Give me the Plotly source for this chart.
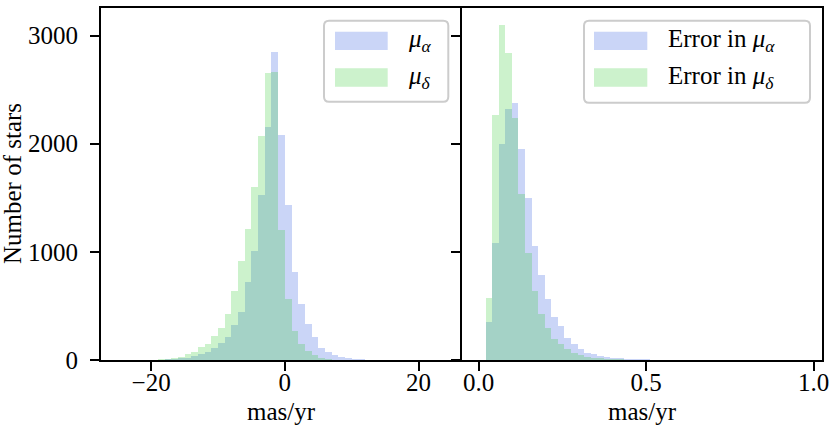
import plotly.graph_objects as go
from plotly.subplots import make_subplots

# proper motion histograms (mas/yr), bins of width 1 starting at -25
pm_bin_left = list(range(-25, 24))
pm_alpha_counts = [0, 0, 1, 1, 2, 3, 4, 6, 9, 15,
                   22, 37, 53, 74, 108, 155, 213, 328, 440, 718,
                   1012, 1523, 2157, 2848, 2080, 1430, 811, 517, 331, 210,
                   115, 77, 45, 28, 19, 10, 6, 4, 2, 1,
                   1, 1, 0, 0, 0, 0, 0, 0, 0]
pm_delta_counts = [0, 0, 1, 1, 2, 3, 6, 12, 19, 31,
                   53, 71, 121, 145, 223, 300, 430, 641, 920, 1214,
                   1600, 2071, 2653, 2660, 1198, 563, 269, 146, 84, 43,
                   22, 9, 4, 2, 1, 0, 0, 0, 0, 0,
                   0, 0, 0, 0, 0, 0, 0, 0, 0]

# proper motion errors (mas/yr), 50 bins over 0 .. 0.98
err_bin_width = 0.0196
err_bin_left = [k * err_bin_width for k in range(50)]
err_alpha_counts = [0, 347, 1084, 1994, 2322, 2375, 1950, 1502, 1053, 789,
                    563, 399, 310, 201, 146, 99, 62, 53, 37, 28,
                    22, 15, 12, 9, 6, 5, 4, 3, 2, 2,
                    1, 1, 1, 0, 0, 0, 0, 0, 0, 0,
                    0, 0, 0, 0, 0, 0, 0, 0, 0, 1]
err_delta_counts = [0, 573, 2266, 3102, 2839, 2235, 1539, 988, 640, 430,
                    300, 198, 146, 99, 68, 46, 31, 22, 15, 12,
                    9, 6, 4, 3, 2, 2, 1, 1, 1, 0,
                    0, 0, 0, 0, 0, 0, 0, 0, 0, 0,
                    0, 0, 0, 0, 0, 0, 0, 0, 0, 0]

count_ticks = [0, 1000, 2000, 3000]
left_labels = ["<i>μ</i><sub><i>α</i></sub>", "<i>μ</i><sub><i>δ</i></sub>"]
right_labels = ["Error in <i>μ</i><sub><i>α</i></sub>", "Error in <i>μ</i><sub><i>δ</i></sub>"]

BLUE = "rgba(65,105,225,0.28)"
GREEN = "rgba(50,205,50,0.25)"
FONT = "Liberation Serif"

W, H = 831, 435
ML, MR, MT, MB = 101, 9, 8, 75
PW, PH = W - ML - MR, H - MT - MB


def px(x, y):
    """screen pixel position -> paper coords"""
    return (x - ML) / PW, (H - MB - y) / PH


fig = make_subplots(rows=1, cols=2, shared_yaxes=True, horizontal_spacing=0)

fig.add_bar(x=[b + 0.5 for b in pm_bin_left], y=pm_alpha_counts, width=1.0,
            marker=dict(color=BLUE, line=dict(width=0)), row=1, col=1)
fig.add_bar(x=[b + 0.5 for b in pm_bin_left], y=pm_delta_counts, width=1.0,
            marker=dict(color=GREEN, line=dict(width=0)), row=1, col=1)
fig.add_bar(x=[b + err_bin_width / 2 for b in err_bin_left], y=err_alpha_counts,
            width=err_bin_width, marker=dict(color=BLUE, line=dict(width=0)), row=1, col=2)
fig.add_bar(x=[b + err_bin_width / 2 for b in err_bin_left], y=err_delta_counts,
            width=err_bin_width, marker=dict(color=GREEN, line=dict(width=0)), row=1, col=2)

axis_style = dict(showline=True, linecolor="black", linewidth=2, mirror=True,
                  ticks="outside", ticklen=9, tickwidth=2, tickcolor="black",
                  showgrid=False, zeroline=False, automargin=False,
                  tickfont=dict(family=FONT, size=25, color="black"))

fig.update_xaxes(**axis_style, ticklabelstandoff=-10)
fig.update_yaxes(**axis_style, ticklabelstandoff=7)
fig.update_xaxes(range=[-27.5, 26.43], tickvals=[-20, 0, 20], row=1, col=1)
fig.update_xaxes(range=[-0.051, 1.025], tickvals=[0.0, 0.5, 1.0],
                 ticktext=["0.0", "0.5", "1.0"], row=1, col=2)
fig.update_yaxes(range=[0, 3255], tickvals=count_ticks)
fig.update_yaxes(mirror=False, row=1, col=1)
fig.update_yaxes(showticklabels=False, row=1, col=2)
fig.update_layout(xaxis=dict(domain=[0, 0.5]), xaxis2=dict(domain=[0.5, 1]))

# axis titles
x0, y0 = px(12, 184)
fig.add_annotation(x=x0, y=y0, xref="paper", yref="paper", text="Number of stars",
                   textangle=-90, showarrow=False, xanchor="center", yanchor="middle",
                   font=dict(family=FONT, size=25))
for cx in (281.5, 642):
    xa, ya = px(cx, 411)
    fig.add_annotation(x=xa, y=ya, xref="paper", yref="paper", text="mas/yr",
                       showarrow=False, xanchor="center", yanchor="middle",
                       font=dict(family=FONT, size=25))


def rounded_box(xl, xr, yt, yb, r=5):
    """rounded rectangle path in paper coords from pixel box"""
    rx, ry = r / PW, r / PH
    a, t = px(xl, yt)
    b, bt = px(xr, yb)
    return (f"M{a + rx},{t} L{b - rx},{t} Q{b},{t} {b},{t - ry} "
            f"L{b},{bt + ry} Q{b},{bt} {b - rx},{bt} "
            f"L{a + rx},{bt} Q{a},{bt} {a},{bt + ry} "
            f"L{a},{t - ry} Q{a},{t} {a + rx},{t} Z")


def draw_legend(box, patch_x, text_x, labels):
    fig.add_shape(type="path", path=rounded_box(*box), xref="paper", yref="paper",
                  fillcolor="rgba(255,255,255,0.8)", line=dict(color="rgb(204,204,204)", width=2))
    for label, color, (yt, yb) in zip(labels, (BLUE, GREEN), ((31.7, 50), (68.3, 86.7))):
        a, t = px(patch_x[0], yt)
        b, bt = px(patch_x[1], yb)
        fig.add_shape(type="rect", x0=a, x1=b, y0=bt, y1=t, xref="paper", yref="paper",
                      fillcolor=color, line=dict(width=0))
        tx, ty = px(text_x, (yt + yb) / 2)
        fig.add_annotation(x=tx, y=ty, xref="paper", yref="paper", text=label,
                           showarrow=False, xanchor="left", yanchor="middle",
                           font=dict(family=FONT, size=25))


draw_legend((324, 448.3, 20.7, 101.7), (335, 387.7), 406, left_labels)
draw_legend((584, 810, 20.7, 102.7), (594, 647.3), 666, right_labels)

fig.update_layout(width=W, height=H, margin=dict(l=ML, r=MR, t=MT, b=MB, autoexpand=False),
                  barmode="overlay", bargap=0, showlegend=False, hovermode=False,
                  plot_bgcolor="white", paper_bgcolor="white",
                  font=dict(family=FONT, size=25, color="black"))

# drop the browser's default body margin so the figure fills the window
fig.write_html("out.html", config={"displayModeBar": False},
               post_script="document.body.style.margin = '0';")
